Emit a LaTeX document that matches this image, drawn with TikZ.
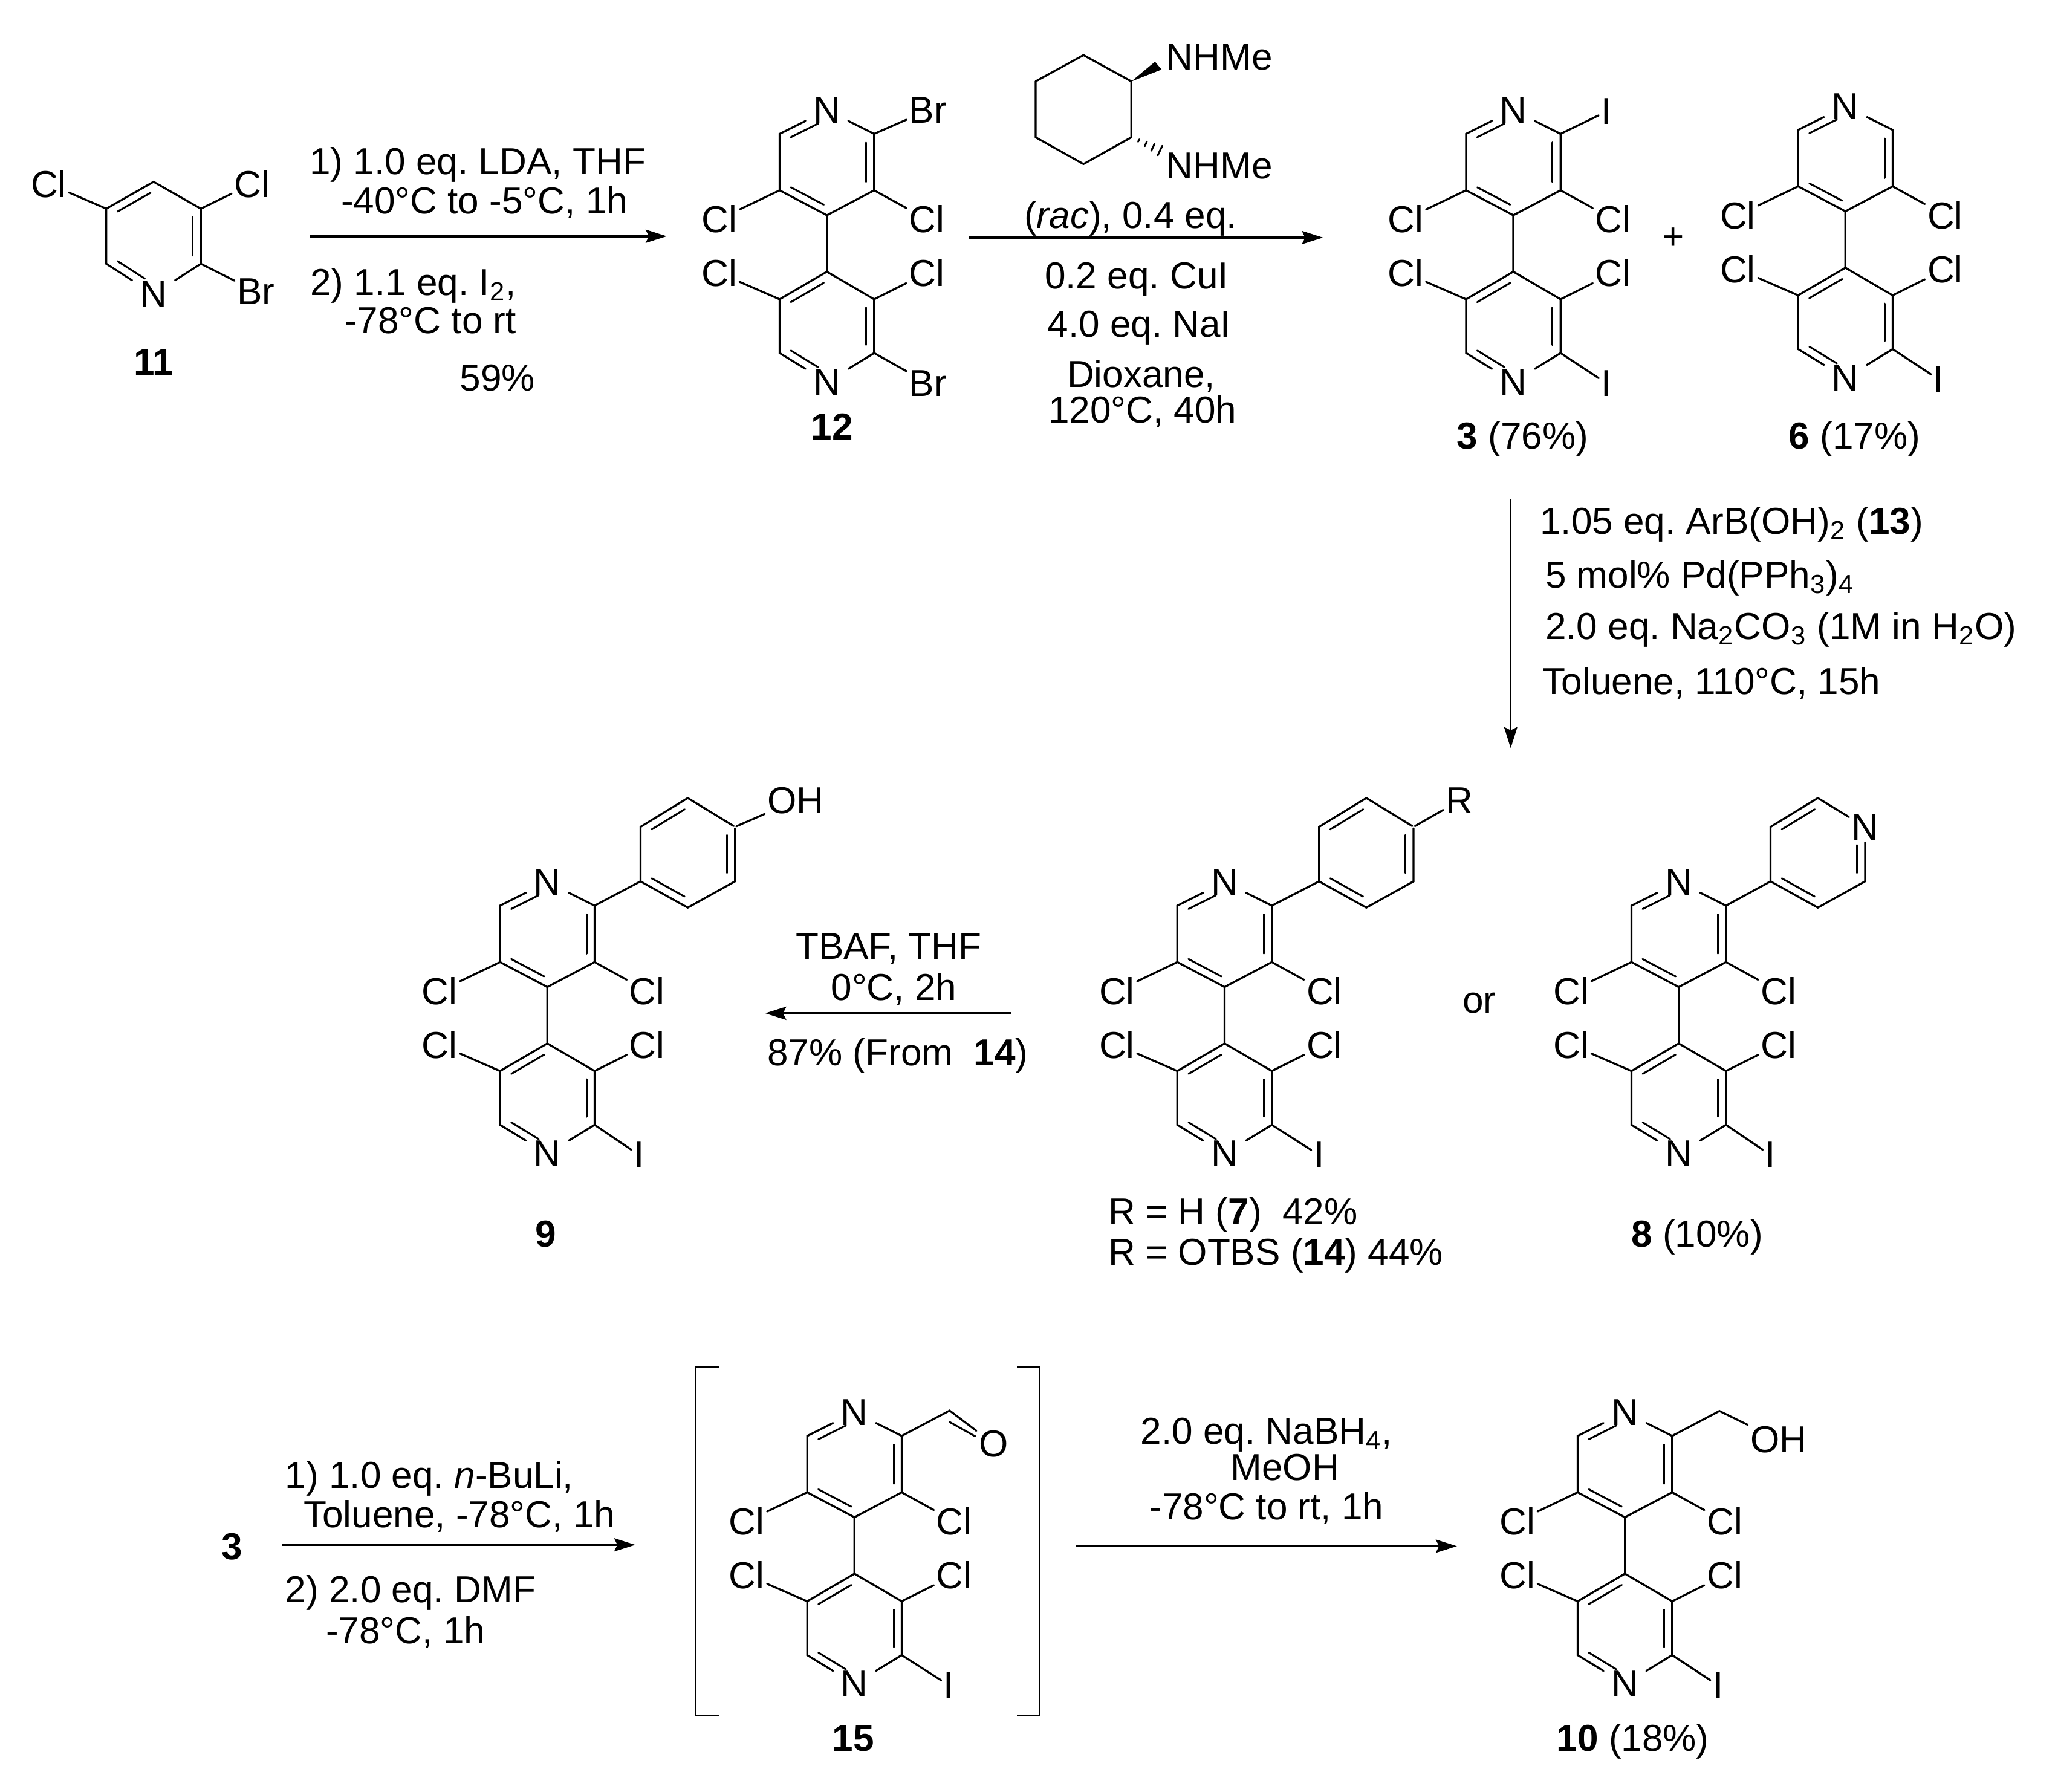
\documentclass[tikz,border=0pt]{standalone}
\usepackage{fontspec}
\setmainfont{Liberation Sans}
\usetikzlibrary{calc,arrows.meta}
\frenchspacing
\tikzset{
  every node/.style={font=\fontsize{14.3}{17}\selectfont\frenchspacing,text=black},
  atom/.style={inner sep=1pt,outer sep=0pt},
  natom/.style={inner xsep=3pt,inner ysep=1.5pt,outer sep=0pt},
  vert/.style={inner sep=0pt,outer sep=0pt},
  tc/.style={anchor=base,inner sep=0pt},
  tl/.style={anchor=base west,inner sep=0pt},
  bond/.style={line width=0.75pt,line cap=round,black},
  inbond/.style={line width=0.7pt,line cap=round,black},
  rxn/.style={line width=0.8pt,-{Stealth[length=8pt,width=5pt,inset=1.2pt]},black}
}
% inner line of a double bond: ends a,b; ring centre c; end fractions
\newcommand\dblb[5]{\draw[inbond] ($(#1)!#4!(#2)!.17!(#3)$) -- ($(#2)!#5!(#1)!.17!(#3)$);}
% #1 prefix, #2 x, #3 y of upper N, #4 lower substituent x offset, #5 its text
\newcommand\bipy[5]{%
\begin{scope}[shift={(#2,#3)}]
  \node[natom] (#1n) at (0,0) {N};
  \coordinate (#1a) at (36,18);
  \coordinate (#1b) at (36,61);
  \coordinate (#1c) at (0,80);
  \coordinate (#1d) at (-36,61);
  \coordinate (#1e) at (-36,18);
  \coordinate (#1r) at (0,40);
  \coordinate (#1f) at (0,123);
  \coordinate (#1g) at (36,144);
  \coordinate (#1h) at (36,185);
  \node[natom] (#1m) at (0,207) {N};
  \coordinate (#1i) at (-36,185);
  \coordinate (#1j) at (-36,144);
  \coordinate (#1s) at (0,165);
  \node[atom] (#1cl1) at (-82,83) {Cl};
  \node[atom] (#1cl2) at (76,83) {Cl};
  \node[atom] (#1cl3) at (-82,124) {Cl};
  \node[atom] (#1cl4) at (76,124) {Cl};
  \node[atom] (#1x) at (#4,208) {#5};
\end{scope}
\draw[bond] (#1n) -- (#1a) -- (#1b) -- (#1c) -- (#1d) -- (#1e) -- (#1n);
\draw[bond] (#1c) -- (#1f) -- (#1g) -- (#1h) -- (#1m) -- (#1i) -- (#1j) -- (#1f);
\draw[bond] (#1d) -- (#1cl1);
\draw[bond] (#1b) -- (#1cl2);
\draw[bond] (#1j) -- (#1cl3);
\draw[bond] (#1g) -- (#1cl4);
\draw[bond] (#1h) -- (#1x);
\dblb{#1e}{#1n}{#1r}{.08}{.22}
\dblb{#1a}{#1b}{#1r}{.08}{.08}
\dblb{#1d}{#1c}{#1r}{.08}{.08}
\dblb{#1j}{#1f}{#1s}{.08}{.08}
\dblb{#1g}{#1h}{#1s}{.08}{.08}
\dblb{#1i}{#1m}{#1s}{.08}{.22}
}
% #1 prefix, #2 x, #3 y of ipso carbon, #4 style of para position, #5 its text, #6 end fraction
\newcommand\aryl[6]{%
\begin{scope}[shift={(#2,#3)}]
  \coordinate (#1a) at (0,0);
  \coordinate (#1b) at (0,-41.5);
  \coordinate (#1c) at (36,-63.5);
  \node[#4] (#1d) at (72,-41.5) {#5};
  \coordinate (#1e) at (72,0);
  \coordinate (#1f) at (36,20);
  \coordinate (#1r) at (36,-21.5);
\end{scope}
\draw[bond] (#1a) -- (#1b) -- (#1c) -- (#1d) -- (#1e) -- (#1f) -- (#1a);
\dblb{#1a}{#1f}{#1r}{.08}{.08}
\dblb{#1b}{#1c}{#1r}{.08}{.08}
\dblb{#1d}{#1e}{#1r}{#6}{.08}
}
\begin{document}
\begin{tikzpicture}[x=0.5pt,y=-0.5pt]
\useasboundingbox (0,0) rectangle (1568,1365.3);

% ---- compound 11
\node[natom] (pN) at (117,224) {N};
\coordinate (pa) at (153,201);
\coordinate (pb) at (153,159);
\coordinate (pc) at (117,138.5);
\coordinate (pd) at (81,159);
\coordinate (pe) at (81,201);
\coordinate (pr) at (117,180);
\node[atom] (pCl1) at (37,140) {Cl};
\node[atom] (pCl2) at (192,140) {Cl};
\node[atom] (pBr) at (195,222) {Br};
\draw[bond] (pN) -- (pa) -- (pb) -- (pc) -- (pd) -- (pe) -- (pN);
\draw[bond] (pd) -- (pCl1);
\draw[bond] (pb) -- (pCl2);
\draw[bond] (pa) -- (pBr);
\dblb{pa}{pb}{pr}{.08}{.08}
\dblb{pd}{pc}{pr}{.08}{.08}
\dblb{pe}{pN}{pr}{.08}{.22}
\node[tc] (l11) at (117,286) {\textbf{11}};

% ---- step 1
\coordinate (s1a) at (236,180);
\coordinate (s1b) at (508,180);
\draw[rxn] (s1a) -- (s1b);
\node[tc] (t1a) at (364,133) {1) 1.0 eq. LDA, THF};
\node[tc] (t1b) at (369,163) {-40°C to -5°C, 1h};
\node[tl] (t1c) at (236,225) {2) 1.1 eq. I\textsubscript{2},};
\node[tc] (t1d) at (328,254) {-78°C to rt};
\node[tc] (t1e) at (379,298) {59\%};

% ---- compound 12
\bipy{u}{630}{84}{77}{Br}
\node[atom] (uBr) at (707,84) {Br};
\draw[bond] (ua) -- (uBr);
\node[tc] (l12) at (634,335) {\textbf{12}};

% ---- step 2
\coordinate (s2a) at (738,181);
\coordinate (s2b) at (1008,181);
\draw[rxn] (s2a) -- (s2b);
\coordinate (h1) at (825.5,42);
\coordinate (h2) at (862,62);
\coordinate (h3) at (862,104.6);
\coordinate (h4) at (825.5,125);
\coordinate (h5) at (789,104.6);
\coordinate (h6) at (789,62);
\draw[bond,line join=round] (h1) -- (h2) -- (h3) -- (h4) -- (h5) -- (h6) -- cycle;
\fill[black] (h2) -- (880,47) -- (885,53) -- cycle;
\draw[inbond] (867.1,108) -- (867.9,106.2) (872.2,111.4) -- (873.8,107.8)
  (877.1,114.9) -- (879.7,109.5) (882.1,118.3) -- (885.5,111.1);
\node[tl] (t2a) at (888,53) {NHMe};
\node[tl] (t2b) at (888,136) {NHMe};
\node[tc] (t2c) at (861.5,174) {(\textit{rac}), 0.4 eq.};
\node[tc] (t2d) at (866,220) {0.2 eq. CuI};
\node[tc] (t2e) at (868,257) {4.0 eq. NaI};
\node[tc] (t2f) at (869.5,295) {Dioxane,};
\node[tc] (t2g) at (870.5,322) {120°C, 40h};

% ---- compounds 3, 6
\bipy{v}{1153}{84}{71}{I}
\node[atom] (vI) at (1224,85) {I};
\draw[bond] (va) -- (vI);
\node[tc] (l3) at (1160,342) {\textbf{3} (76\%)};
\node[tc] (plus) at (1275,190) {+};
\bipy{w}{1406}{81}{71}{I}
\node[tc] (l6) at (1413,342) {\textbf{6} (17\%)};

% ---- step 3
\coordinate (s3a) at (1151,380);
\coordinate (s3b) at (1151,570);
\draw[rxn] (s3a) -- (s3b);
\node[tl] (t3a) at (1173,407) {1.05 eq. ArB(OH)\textsubscript{2} (\textbf{13})};
\node[tl] (t3b) at (1177,448) {5 mol\% Pd(PPh\textsubscript{3})\textsubscript{4}};
\node[tl] (t3c) at (1177,487) {2.0 eq. Na\textsubscript{2}CO\textsubscript{3} (1M in H\textsubscript{2}O)};
\node[tl] (t3d) at (1175,529) {Toluene, 110°C, 15h};

% ---- compound 7/14
\bipy{x}{933}{672}{72}{I}
\aryl{xp}{1005}{671.5}{vert}{}{.08}
\draw[bond] (xa) -- (xpa);
\node[atom] (xR) at (1112,610) {R};
\draw[bond] (xpd) -- (xR);
\node[tl] (t7a) at (844,933) {R = H (\textbf{7})\ \ 42\%};
\node[tl] (t7b) at (844,964) {R = OTBS (\textbf{14}) 44\%};
\node[tc] (or) at (1127,772) {or};

% ---- compound 8
\bipy{y}{1279}{672}{70}{I}
\aryl{yp}{1349}{671.5}{atom}{N}{.3}
\draw[bond] (ya) -- (ypa);
\node[tc] (l8) at (1293,950) {\textbf{8} (10\%)};

% ---- compound 9
\bipy{z}{417}{672}{70}{I}
\aryl{zp}{488}{671.5}{vert}{}{.08}
\draw[bond] (za) -- (zpa);
\node[atom] (zOH) at (606,610) {OH};
\draw[bond] (zpd) -- (zOH);
\node[tc] (l9) at (416,950) {\textbf{9}};

% ---- step 4
\coordinate (s4a) at (770,772);
\coordinate (s4b) at (583,772);
\draw[rxn] (s4a) -- (s4b);
\node[tc] (t4a) at (677,731) {TBAF, THF};
\node[tc] (t4b) at (681,762) {0°C, 2h};
\node[tc] (t4c) at (684,812) {87\% (From\ \ \textbf{14})};

% ---- step 5
\node[tc] (l3b) at (177,1188) {\textbf{3}};
\coordinate (s5a) at (215,1177);
\coordinate (s5b) at (484,1177);
\draw[rxn] (s5a) -- (s5b);
\node[tl] (t5a) at (217,1134) {1) 1.0 eq. \textit{n}-BuLi,};
\node[tl] (t5b) at (231,1164) {Toluene, -78°C, 1h};
\node[tl] (t5c) at (217,1221) {2) 2.0 eq. DMF};
\node[tl] (t5d) at (248,1252) {-78°C, 1h};

% ---- compound 15
\coordinate (bl1) at (548,1041.7);
\coordinate (bl2) at (530,1041.7);
\coordinate (bl3) at (530,1307);
\coordinate (bl4) at (548,1307);
\coordinate (br1) at (775,1041.7);
\coordinate (br2) at (792,1041.7);
\coordinate (br3) at (792,1307);
\coordinate (br4) at (775,1307);
\draw[bond,line cap=butt] (bl1) -- (bl2) -- (bl3) -- (bl4);
\draw[bond,line cap=butt] (br1) -- (br2) -- (br3) -- (br4);
\bipy{q}{651}{1076}{72}{I}
\coordinate (qcho) at (723.5,1074.7);
\node[atom] (qO) at (757,1100) {O};
\draw[bond] (qa) -- (qcho) -- (qO);
\draw[inbond] ($(qcho)+(0,8.7)$) -- ($(qO)+(-14,-5.7)$);
\node[tc] (l15) at (650,1334) {\textbf{15}};

% ---- step 6
\coordinate (s6a) at (820,1178);
\coordinate (s6b) at (1110,1178);
\draw[rxn] (s6a) -- (s6b);
\node[tc] (t6a) at (965,1100) {2.0 eq. NaBH\textsubscript{4},};
\node[tc] (t6b) at (979,1128) {MeOH};
\node[tc] (t6c) at (965,1158) {-78°C to rt, 1h};

% ---- compound 10
\bipy{r}{1238}{1076}{71}{I}
\coordinate (rch) at (1310,1075);
\node[atom] (rOH) at (1355,1097) {OH};
\draw[bond] (ra) -- (rch) -- (rOH);
\node[tc] (l10) at (1244,1334) {\textbf{10} (18\%)};
\end{tikzpicture}
\end{document}
